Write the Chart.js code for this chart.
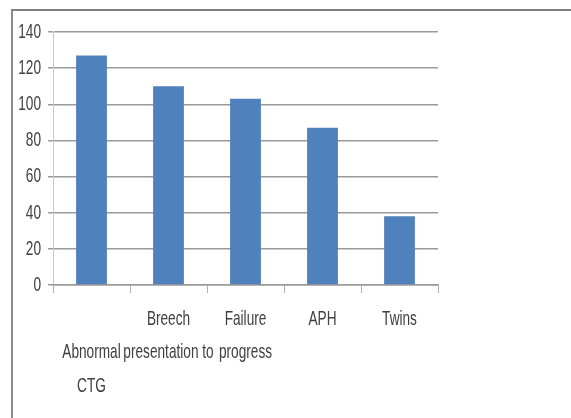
<!DOCTYPE html>
<html>
<head>
<meta charset="utf-8">
<script src="https://cdn.jsdelivr.net/npm/chart.js@4"></script>
<style>
  html, body { margin: 0; padding: 0; background: #fff; overflow: hidden; }
  #frame {
    position: absolute; left: 11px; top: 9px; width: 600px; height: 500px;
    border-top: 2px solid #7f7f7f; border-left: 2px solid #8c8c8c;
  }
  #grafico { position: absolute; left: 0; top: 0; }
</style>
</head>
<body>
<div id="frame"></div>
<canvas id="grafico" width="571" height="418"></canvas>
<script>
const categorias = [
    ['', 'Abnormal', 'CTG'],
    ['Breech', 'presentation to'],
    ['Failure', 'progress'],
    ['APH'],
    ['Twins']
];
const valores = [127, 110, 103, 87, 38];
const yTicks = [0, 20, 40, 60, 80, 100, 120, 140];

// el texto del original sale estrechado en horizontal
const ESTRECHO = 0.65;
const textoEstrecho = {
    id: 'textoEstrecho',
    beforeDraw(chart) {
        const c = chart.ctx;
        if (c._estrecho) return;
        const orig = c.fillText.bind(c);
        c.fillText = function(text, x, y, maxWidth) {
            c.save();
            c.translate(x, y);
            c.scale(ESTRECHO, 1);
            if (maxWidth === undefined) orig(text, 0, 0);
            else orig(text, 0, 0, maxWidth / ESTRECHO);
            c.restore();
        };
        c._estrecho = true;
    }
};

document.addEventListener('DOMContentLoaded', function() {
    const ctx = document.getElementById('grafico').getContext('2d');
    const fuente = "'Liberation Sans', Arial, sans-serif";

    new Chart(ctx, {
        type: 'bar',
        data: {
            labels: categorias,
            datasets: [{
                data: valores,
                backgroundColor: '#4F81BD',
                borderWidth: 0,
                barPercentage: 0.8,
                categoryPercentage: 0.5
            }]
        },
        options: {
            responsive: false,
            animation: false,
            layout: {
                padding: { left: 0, top: 32, right: 133, bottom: 0 }
            },
            plugins: {
                legend: { display: false },
                tooltip: { enabled: false }
            },
            scales: {
                y: {
                    min: 0,
                    max: 140,
                    afterFit: function(scale) { scale.width = 53; },
                    afterBuildTicks: function(scale) {
                        scale.ticks = yTicks.map(v => ({ value: v }));
                    },
                    ticks: {
                        color: '#404040',
                        padding: 7,
                        font: { family: fuente, size: 21 }
                    },
                    grid: {
                        color: '#9a9a9a',
                        lineWidth: 1.5,
                        tickLength: 5,
                        tickColor: '#9a9a9a'
                    },
                    border: { color: '#c8c8c8', width: 1 }
                },
                x: {
                    afterFit: function(scale) { scale.height = 133; },
                    ticks: {
                        autoSkip: false,
                        maxRotation: 0,
                        minRotation: 0,
                        color: '#404040',
                        padding: 9,
                        font: { family: fuente, size: 21, lineHeight: 1.6 }
                    },
                    grid: {
                        drawOnChartArea: false,
                        tickLength: 8,
                        tickColor: '#b0b0b0'
                    },
                    border: { color: '#9a9a9a', width: 1.5 }
                }
            }
        },
        plugins: [textoEstrecho]
    });
});
</script>
</body>
</html>
